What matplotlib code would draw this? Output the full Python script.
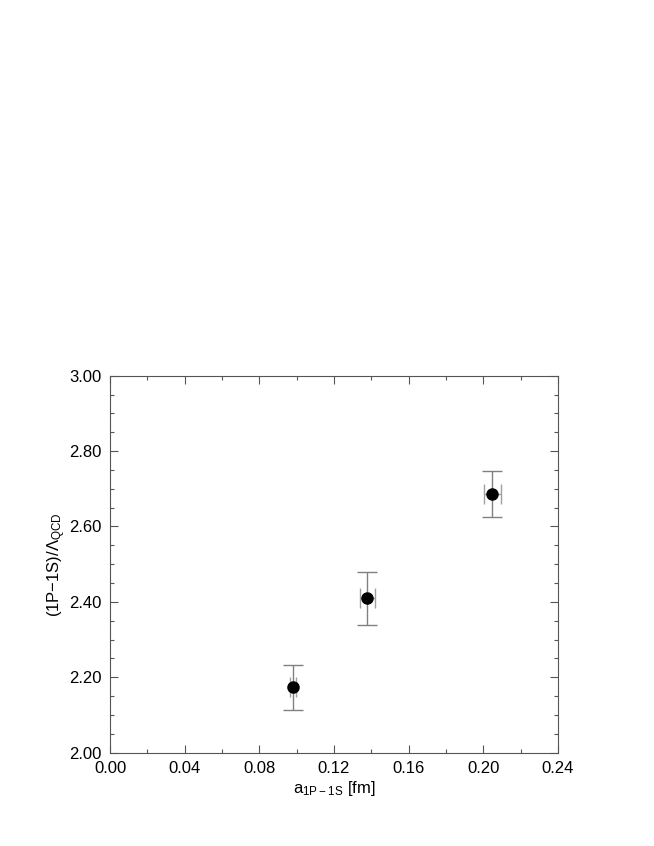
import numpy as np
import matplotlib.pyplot as plt
from matplotlib.ticker import MultipleLocator, FormatStrFormatter

plt.rcParams['font.family'] = ['Liberation Sans', 'DejaVu Sans']
plt.rcParams['mathtext.fontset'] = 'custom'
plt.rcParams['mathtext.rm'] = 'Liberation Sans'

# lattice spacing and level splitting
a_fm = [0.0981, 0.1378, 0.2049]
a_err = [0.0018, 0.0041, 0.0045]
split = [2.1735, 2.4096, 2.687]
split_err = [0.0593, 0.0707, 0.061]

fig = plt.figure(figsize=(6.54, 8.46), dpi=100)
ax = fig.add_axes([0.1682, 0.1103, 0.685, 0.4456])

cap = 7.2
ax.errorbar(a_fm, split, yerr=split_err, fmt='none', ecolor='#808080',
            elinewidth=1, capsize=cap, capthick=1)
ax.errorbar(a_fm, split, xerr=a_err, fmt='none', ecolor='#a0a0a0',
            elinewidth=1, capsize=cap, capthick=1)
ax.plot(a_fm, split, 'o', color='black', markersize=8, zorder=5)

ax.set_xlim(0, 0.24)
ax.set_ylim(2.0, 3.0)
ax.xaxis.set_major_locator(MultipleLocator(0.04))
ax.xaxis.set_minor_locator(MultipleLocator(0.02))
ax.yaxis.set_major_locator(MultipleLocator(0.2))
ax.yaxis.set_minor_locator(MultipleLocator(0.05))
ax.xaxis.set_major_formatter(FormatStrFormatter('%.2f'))
ax.yaxis.set_major_formatter(FormatStrFormatter('%.2f'))

ax.tick_params(which='both', direction='in', top=True, right=True,
               color='#555555', labelsize=12)
ax.tick_params(which='major', length=6, width=0.8, pad=6)
ax.tick_params(which='minor', length=3, width=0.8)
for s in ax.spines.values():
    s.set_color('#555555')
    s.set_linewidth(0.8)

ax.set_xlabel(r'$\mathregular{a_{1P-1S}}$ [fm]', fontsize=12, labelpad=2)
ax.set_ylabel(r'(1P$\mathregular{-}$1S)/$\mathregular{\Lambda_{QCD}}$', fontsize=12, labelpad=1)

fig.savefig('out.png', dpi=100)
